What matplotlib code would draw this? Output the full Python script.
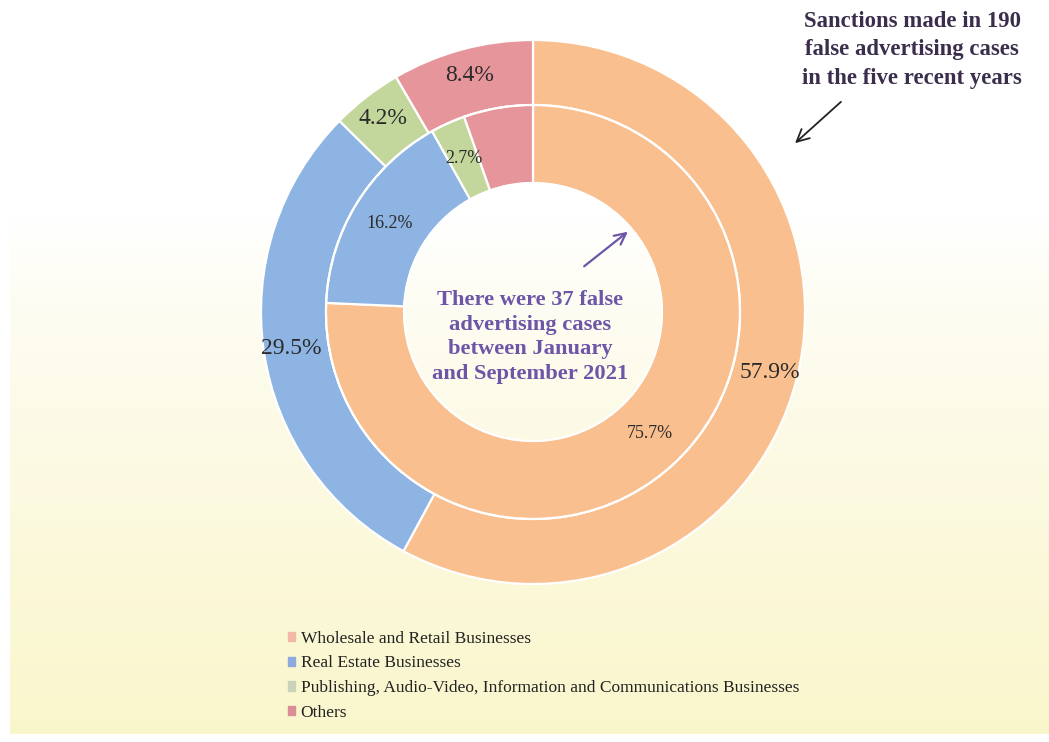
import numpy as np
import matplotlib
matplotlib.use("Agg")
from matplotlib import pyplot as plt

categories = ['Wholesale and Retail Businesses',
              'Real Estate Businesses',
              'Publishing, Audio-Video, Information and Communications Businesses',
              'Others']
outer_pct = [57.9, 29.5, 4.2, 8.4]   # five recent years, 190 cases
inner_pct = [75.7, 16.2, 2.7, 5.4]   # Jan - Sep 2021, 37 cases
inner_labels = ['75.7%', '16.2%', '2.7%', '']
outer_labels = ['57.9%', '29.5%', '4.2%', '8.4%']

colors = ['#FABF8F', '#8DB4E2', '#C3D69B', '#E6959B']
legend_colors = ['#F2B8A8', '#8EA9DB', '#C9D3B9', '#D98E98']

plt.rcParams['font.family'] = ['Liberation Serif', 'DejaVu Serif']

W, H = 1049, 742
fig = plt.figure(figsize=(W / 100, H / 100), dpi=100)

# background gradient: white on top, pale yellow at bottom
bg = fig.add_axes([10 / W, 8 / H, 1 - 10 / W, 1 - 8 / H])
yy = np.linspace(0, 1, 400)
t = np.clip((yy - 0.30) / 0.70, 0, 1) ** 0.8
top = np.array([1.0, 1.0, 1.0])
bot = np.array([250, 246, 204]) / 255
grad = top[None, :] * (1 - t[:, None]) + bot[None, :] * t[:, None]
bg.imshow(grad[:, None, :], aspect='auto', extent=[0, 1, 0, 1], origin='upper')
bg.set_axis_off()

# donut axes, center at (533, 312) px, outer radius 272 px
cx, cy, R = 533, 312, 272
ax = fig.add_axes([(cx - R) / W, (H - cy - R) / H, 2 * R / W, 2 * R / H])

r_mid = 207 / R
r_hole = 129 / R

outer, _ = ax.pie(outer_pct, radius=1.0, colors=colors, startangle=90,
                  counterclock=False,
                  wedgeprops=dict(width=1 - r_mid, edgecolor='white', linewidth=1.6))
inner, _ = ax.pie(inner_pct, radius=r_mid, colors=colors, startangle=90,
                  counterclock=False,
                  wedgeprops=dict(width=r_mid - r_hole, edgecolor='white', linewidth=1.6))
ax.set_xlim(-1, 1)
ax.set_ylim(-1, 1)
ax.set_axis_off()

# dashed white ring boundary
th = np.linspace(0, 2 * np.pi, 400)
ax.plot(r_mid * np.cos(th), r_mid * np.sin(th), color='white', lw=1.4, ls=(0, (6, 3)))
ax.plot(r_hole * np.cos(th), r_hole * np.sin(th), color='white', lw=1.2, ls=(0, (6, 3)))


def put_labels(wedges, labels, r, size):
    for w, lab in zip(wedges, labels):
        if not lab:
            continue
        a = np.deg2rad((w.theta1 + w.theta2) / 2)
        ax.text(r * np.cos(a), r * np.sin(a), lab, ha='center', va='center',
                fontsize=size, color='#2B2B2B')


put_labels(outer, outer_labels, 0.9, 17)
put_labels(inner, inner_labels, 0.62, 13)

# annotations
fig.text(912 / W, 1 - 50 / H,
         'Sanctions made in 190\nfalse advertising cases\nin the five recent years',
         ha='center', va='center', fontsize=16.4, fontweight='bold',
         color='#3A2E4C', linespacing=1.45)
fig.text(530 / W, 1 - 337 / H,
         'There were 37 false\nadvertising cases\nbetween January\nand September 2021',
         ha='center', va='center', fontsize=16.2, fontweight='bold',
         color='#6D55A8', linespacing=1.32)

ax.annotate('', xy=(793, H - 145), xycoords='figure pixels',
            xytext=(843, H - 100), textcoords='figure pixels',
            annotation_clip=False, zorder=10,
            arrowprops=dict(arrowstyle='->', color='#222222', lw=1.3,
                            mutation_scale=22))
ax.annotate('', xy=(630, H - 230), xycoords='figure pixels',
            xytext=(582, H - 268), textcoords='figure pixels',
            annotation_clip=False, zorder=10,
            arrowprops=dict(arrowstyle='->', color='#6D55A8', lw=1.6,
                            mutation_scale=20))

# legend
handles = [plt.Rectangle((0, 0), 1, 1, color=c) for c in legend_colors]
fig.legend(handles, categories, loc='upper left',
           bbox_to_anchor=(279 / W, 1 - 622 / H), frameon=False,
           fontsize=12.5, handlelength=0.45, handleheight=0.45,
           handletextpad=0.3, labelspacing=0.5, borderpad=0,
           labelcolor='#222222')

fig.savefig('out.png', dpi=100)
